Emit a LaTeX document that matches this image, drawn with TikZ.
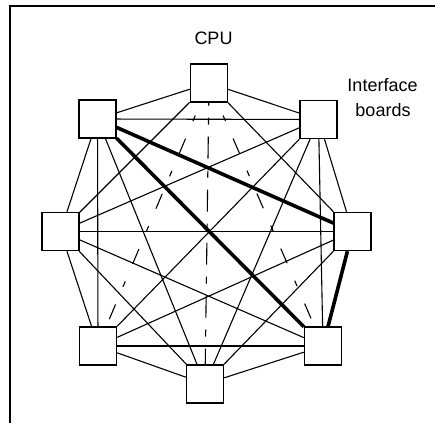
\documentclass[tikz,border=0pt]{standalone}
\usepackage{fontspec}
\setmainfont{Liberation Sans}
\begin{document}
\begin{tikzpicture}[x=1pt,y=1pt,
  board/.style={draw, line width=1.4pt, minimum width=37pt, minimum height=38pt, inner sep=0pt},
  link/.style={line width=1.1pt},
  heavy/.style={line width=3.6pt},
  dashv/.style={line width=1.1pt, dash pattern=on 22pt off 12pt on 7pt off 12pt, dash phase=19pt},
  dashd/.style={line width=1.1pt, dash pattern=on 16pt off 19pt on 6pt off 19pt, dash phase=21pt},
  lbl/.style={font=\fontsize{18}{21}\selectfont, inner sep=0pt, anchor=base}
]
\useasboundingbox (0,0) rectangle (435,423);
% frame
\draw[line width=2pt] (9.7,0) -- (9.7,417) -- (435,417);
% boards
\node[board] (T)  at (209,340) {};
\node[board] (UL) at (97.5,304) {};
\node[board] (UR) at (318.5,303.5) {};
\node[board] (L)  at (60.5,191.5) {};
\node[board] (R)  at (352.5,191.5) {};
\node[board] (LL) at (98,77) {};
\node[board] (LR) at (323,77) {};
\node[board] (B)  at (205,39) {};
% labels
\node[lbl] (cpu) at (213.5,378) {CPU};
\node[lbl] (if1) at (382.5,331.3) {Interface};
\node[lbl] (if2) at (383,306.5) {boards};
% CPU links
\draw[link] (T) -- (UL);
\draw[link] (T) -- (UR);
\draw[link] (T) -- (L);
\draw[link] (T) -- (R);
\draw[dashd] (T) -- (LL);
\draw[dashd] (T) -- (LR);
\draw[dashv] (T) -- (B);
% UL links
\draw[link] (UL) -- (UR);
\draw[link] (UL) -- (L);
\draw[heavy] (UL) -- (R);
\draw[link] (UL) -- (LL);
\draw[heavy] (UL) -- (LR);
\draw[link] (UL) -- (B);
% UR links
\draw[link] (UR) -- (L);
\draw[link] (UR) -- (R);
\draw[link] (UR) -- (LL);
\draw[link] (UR) -- (LR);
\draw[link] (UR) -- (B);
% L links
\draw[link] (L) -- (R);
\draw[link] (L) -- (LL);
\draw[link] (L) -- (LR);
\draw[link] (L) -- (B);
% R links
\draw[link] (R) -- (LL);
\draw[heavy] (R) -- (LR);
\draw[link] (R) -- (B);
% lower links
\draw[link] (LL) -- (LR);
\draw[link] (LL) -- (B);
\draw[link] (LR) -- (B);
\end{tikzpicture}
\end{document}
